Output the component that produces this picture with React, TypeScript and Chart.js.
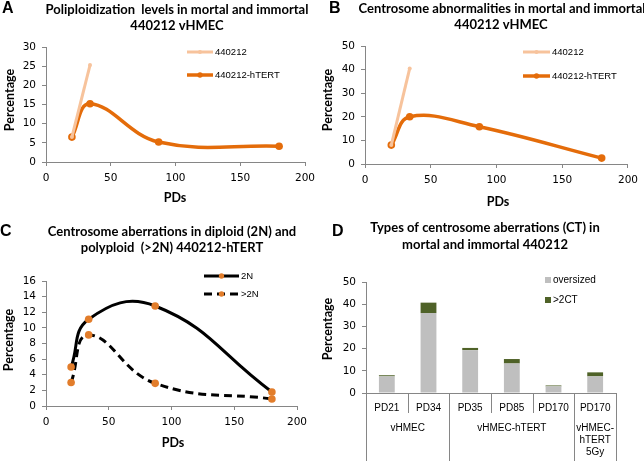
import React, { useEffect, useRef } from 'react';
import { Chart, registerables } from 'chart.js';
Chart.register(...registerables);

// ---------- DATA ----------
// Panel A: polyploidization levels
const pdsMortal = [20, 34];
const pdsImmortal = [20, 34, 87, 180];
const polyMortal = [6.5, 25.3];
const polyImmortal = [6.5, 15.2, 5.2, 4.1];
// Panel B: centrosome abnormalities
const centMortal = [8, 40.5];
const centImmortal = [8, 20, 15.8, 2.5];
// Panel C: centrosome aberrations by ploidy
const pdsC = [20, 34, 87, 180];
const diploid2N = [5, 11.1, 12.8, 1.8];
const polyploidGt2N = [3, 9.1, 2.9, 0.9];
// Panel D: types of centrosome aberrations
const dCategories = ['PD21', 'PD34', 'PD35', 'PD85', 'PD170', 'PD170'];
const dGroupLabels = [['vHMEC'], ['vHMEC-hTERT'], ['vHMEC-', 'hTERT', '5Gy']];
const dGroupSizes = [2, 3, 1];
const oversized = [7.5, 36, 19.3, 13.3, 3, 7.5];
const moreThan2CT = [0.5, 4.7, 1, 2, 0.4, 1.8];

// ---------- STYLE ----------
const AXIS = '#868686';
const LIGHT_OR = '#F7C39C';
const DARK_OR = '#E46C0A';
const MARK_OR = '#E27D2B';
const TICK_FONT = { family: 'DejaVu Sans', size: 10.5 };
const TITLE_FONT = 'bold 13px Lato';
const AXIS_TITLE_FONT = 'bold 12.5px Lato';
const LETTER_FONT = 'bold 16px "Liberation Sans"';
const LEGEND_FONT = '9.5px "Liberation Sans"';

type TextItem = { text: string; x: number; y: number; font: string; align?: CanvasTextAlign; rotate?: boolean };
type LegendItem = { ds: number; x: number; y: number; len: number; kind: 'line' | 'box' };

function makeDecor(texts: TextItem[], legend: LegendItem[], legendFont: string, extra?: (c: any) => void) {
  return {
    id: 'decor',
    afterDraw(chart: any) {
      const ctx = chart.ctx as CanvasRenderingContext2D;
      ctx.save();
      ctx.fillStyle = '#000';
      ctx.textBaseline = 'middle';
      for (const t of texts) {
        ctx.font = t.font;
        ctx.textAlign = t.align || 'center';
        if (t.rotate) {
          ctx.save();
          ctx.translate(t.x, t.y);
          ctx.rotate(-Math.PI / 2);
          ctx.fillText(t.text, 0, 0);
          ctx.restore();
        } else {
          ctx.fillText(t.text, t.x, t.y);
        }
      }
      for (const l of legend) {
        const ds = chart.data.datasets[l.ds];
        if (l.kind === 'line') {
          ctx.save();
          ctx.strokeStyle = ds.borderColor;
          ctx.lineWidth = ds.borderWidth;
          ctx.setLineDash(ds.borderDash || []);
          ctx.beginPath();
          ctx.moveTo(l.x, l.y);
          ctx.lineTo(l.x + l.len, l.y);
          ctx.stroke();
          ctx.restore();
          ctx.fillStyle = ds.pointBackgroundColor;
          ctx.beginPath();
          ctx.arc(l.x + l.len / 2, l.y, Math.max(2, ds.pointRadius * 0.7), 0, Math.PI * 2);
          ctx.fill();
        } else {
          ctx.fillStyle = ds.backgroundColor;
          ctx.fillRect(l.x, l.y - 3, 6, 6);
        }
        ctx.fillStyle = '#000';
        ctx.font = legendFont;
        ctx.textAlign = 'left';
        ctx.fillText(ds.label, l.x + l.len + 2, l.y);
      }
      if (extra) extra(chart);
      ctx.restore();
    },
  };
}

function linAxis(min: number, max: number, step: number, size: number, vertical: boolean, pad: number) {
  return {
    type: 'linear',
    min,
    max,
    ticks: { stepSize: step, font: TICK_FONT, color: '#000', padding: pad },
    grid: { drawOnChartArea: false, drawTicks: true, tickLength: 4, color: AXIS },
    border: { color: AXIS, width: 1 },
    afterFit(s: any) {
      if (vertical) s.width = size;
      else s.height = size;
    },
  };
}

const pts = (xs: number[], ys: number[]) => xs.map((x, i) => ({ x, y: ys[i] }));

type PanelProps = { left: number; top: number; w: number; h: number; build: () => any };

function Panel({ left, top, w, h, build }: PanelProps) {
  const ref = useRef<HTMLCanvasElement>(null);
  useEffect(() => {
    const chart = new Chart(ref.current as HTMLCanvasElement, build());
    return () => chart.destroy();
  }, []);
  return <canvas ref={ref} width={w} height={h} style={{ position: 'absolute', left, top, width: w, height: h }} />;
}

function lineConfig(opts: {
  w: number; h: number; area: [number, number, number, number];
  datasets: any[]; yMin: number; yMax: number; yStep: number;
  texts: TextItem[]; legend: LegendItem[];
}) {
  const [l, t, r, b] = opts.area;
  const xH = 40;
  return {
    type: 'line',
    data: { datasets: opts.datasets },
    options: {
      responsive: false,
      animation: false,
      layout: { padding: { left: 0, top: t, right: opts.w - r, bottom: opts.h - b - xH } },
      plugins: { legend: { display: false }, title: { display: false }, tooltip: { enabled: false } },
      scales: {
        x: linAxis(0, 200, 50, xH, false, 6),
        y: linAxis(opts.yMin, opts.yMax, opts.yStep, l, true, 6),
      },
    },
    plugins: [makeDecor(opts.texts, opts.legend, LEGEND_FONT)],
  };
}

function mortalDs(label: string, data: any[]) {
  return { label, data, borderColor: LIGHT_OR, backgroundColor: LIGHT_OR, pointBackgroundColor: LIGHT_OR,
    pointBorderColor: LIGHT_OR, pointRadius: 2, pointBorderWidth: 0, borderWidth: 3, tension: 0 };
}
function immortalDs(label: string, data: any[], tension: number) {
  return { label, data, borderColor: DARK_OR, backgroundColor: DARK_OR, pointBackgroundColor: DARK_OR,
    pointBorderColor: DARK_OR, pointRadius: 3.8, pointBorderWidth: 0, borderWidth: 3.5, tension };
}

function buildA() {
  return lineConfig({
    w: 322, h: 220, area: [46, 47, 305, 162],
    yMin: 0, yMax: 30, yStep: 5,
    datasets: [
      mortalDs('440212', pts(pdsMortal, polyMortal)),
      immortalDs('440212-hTERT', pts(pdsImmortal, polyImmortal), 0.4),
    ],
    texts: [
      { text: 'A', x: 2, y: 9, font: LETTER_FONT, align: 'left' },
      { text: 'Poliploidization  levels in mortal and immortal', x: 177, y: 10, font: TITLE_FONT },
      { text: '440212 vHMEC', x: 177, y: 26, font: TITLE_FONT },
      { text: 'Percentage', x: 10, y: 100, font: AXIS_TITLE_FONT, rotate: true },
      { text: 'PDs', x: 175, y: 198, font: AXIS_TITLE_FONT },
    ],
    legend: [
      { ds: 0, x: 187, y: 52, len: 26, kind: 'line' },
      { ds: 1, x: 187, y: 75, len: 26, kind: 'line' },
    ],
  });
}

function buildB() {
  return lineConfig({
    w: 322, h: 220, area: [43, 46, 311, 164],
    yMin: 0, yMax: 50, yStep: 10,
    datasets: [
      mortalDs('440212', pts(pdsMortal, centMortal)),
      immortalDs('440212-hTERT', pts(pdsImmortal, centImmortal), 0.4),
    ],
    texts: [
      { text: 'B', x: 7, y: 9, font: LETTER_FONT, align: 'left' },
      { text: 'Centrosome abnormalities in mortal and immortal', x: 180, y: 9, font: TITLE_FONT },
      { text: '440212 vHMEC', x: 179, y: 25, font: TITLE_FONT },
      { text: 'Percentage', x: 6, y: 100, font: AXIS_TITLE_FONT, rotate: true },
      { text: 'PDs', x: 176, y: 202, font: AXIS_TITLE_FONT },
    ],
    legend: [
      { ds: 0, x: 201, y: 52, len: 27, kind: 'line' },
      { ds: 1, x: 201, y: 76, len: 27, kind: 'line' },
    ],
  });
}

function buildC() {
  return lineConfig({
    w: 322, h: 241, area: [46, 61, 297, 186],
    yMin: 0, yMax: 16, yStep: 2,
    datasets: [
      { label: '2N', data: pts(pdsC, diploid2N), borderColor: '#000', backgroundColor: MARK_OR,
        pointBackgroundColor: MARK_OR, pointBorderColor: MARK_OR, pointRadius: 3.8, pointBorderWidth: 0, borderWidth: 3, tension: 0.45 },
      { label: '>2N', data: pts(pdsC, polyploidGt2N), borderColor: '#000', backgroundColor: MARK_OR, borderDash: [8, 5],
        pointBackgroundColor: MARK_OR, pointBorderColor: MARK_OR, pointRadius: 3.8, pointBorderWidth: 0, borderWidth: 3, tension: 0.45 },
    ],
    texts: [
      { text: 'C', x: 0, y: 12, font: LETTER_FONT, align: 'left' },
      { text: 'Centrosome aberrations in diploid (2N) and', x: 172, y: 12, font: TITLE_FONT },
      { text: 'polyploid  (>2N) 440212-hTERT', x: 172, y: 28, font: TITLE_FONT },
      { text: 'Percentage', x: 9, y: 120, font: AXIS_TITLE_FONT, rotate: true },
      { text: 'PDs', x: 173, y: 223, font: AXIS_TITLE_FONT },
    ],
    legend: [
      { ds: 0, x: 204, y: 56, len: 35, kind: 'line' },
      { ds: 1, x: 204, y: 74, len: 35, kind: 'line' },
    ],
  });
}

function buildD() {
  const W = 322, H = 241;
  const area = [44, 62, 294, 173];
  const xH = 40;
  const separators = (chart: any) => {
    const ctx = chart.ctx as CanvasRenderingContext2D;
    const xs = chart.scales.x;
    const ca = chart.chartArea;
    const step = xs.getPixelForValue(1) - xs.getPixelForValue(0);
    const x0 = xs.getPixelForValue(0);
    const n = dCategories.length;
    const groupBounds = new Set<number>([0]);
    let acc = 0;
    dGroupSizes.forEach((s) => { acc += s; groupBounds.add(acc); });
    ctx.strokeStyle = AXIS;
    ctx.lineWidth = 1;
    for (let i = 0; i <= n; i++) {
      const x = Math.round(x0 + (i - 0.5) * step) + 0.5;
      ctx.beginPath();
      ctx.moveTo(x, ca.bottom);
      ctx.lineTo(x, groupBounds.has(i) ? chart.height : ca.bottom + 20);
      ctx.stroke();
    }
    ctx.fillStyle = '#000';
    ctx.font = '10px "Liberation Sans"';
    ctx.textAlign = 'center';
    ctx.textBaseline = 'middle';
    let start = 0;
    dGroupLabels.forEach((lines, g) => {
      const k = dGroupSizes[g];
      const cx = x0 + (start + k / 2 - 0.5) * step;
      lines.forEach((ln, j) => ctx.fillText(ln, cx, ca.bottom + 35 + j * 12));
      start += k;
    });
  };
  return {
    type: 'bar',
    data: {
      labels: dCategories,
      datasets: [
        { label: 'oversized', data: oversized, backgroundColor: '#BFBFBF', barPercentage: 0.38, categoryPercentage: 1 },
        { label: '>2CT', data: moreThan2CT, backgroundColor: '#4F6228', barPercentage: 0.38, categoryPercentage: 1 },
      ],
    },
    options: {
      responsive: false,
      animation: false,
      layout: { padding: { left: 0, top: area[1], right: W - area[2], bottom: H - area[3] - xH } },
      plugins: { legend: { display: false }, title: { display: false }, tooltip: { enabled: false } },
      scales: {
        x: {
          stacked: true,
          ticks: { font: { family: 'Liberation Sans', size: 10 }, color: '#000', padding: 9, maxRotation: 0, autoSkip: false },
          grid: { drawOnChartArea: false, drawTicks: false, color: AXIS },
          border: { color: AXIS },
          afterFit(s: any) { s.height = xH; },
        },
        y: { ...linAxis(0, 50, 10, area[0], true, 6), stacked: true },
      },
    },
    plugins: [makeDecor(
      [
        { text: 'D', x: 10, y: 12, font: LETTER_FONT, align: 'left' },
        { text: 'Types of centrosome aberrations (CT) in', x: 163, y: 8, font: TITLE_FONT },
        { text: 'mortal and immortal 440212', x: 163, y: 25, font: TITLE_FONT },
        { text: 'Percentage', x: 6, y: 109, font: AXIS_TITLE_FONT, rotate: true },
      ],
      [
        { ds: 0, x: 223, y: 60, len: 6, kind: 'box' },
        { ds: 1, x: 223, y: 80, len: 6, kind: 'box' },
      ],
      '10px "Liberation Sans"',
      separators,
    )],
  };
}

export default function App() {
  return (
    <div style={{ position: 'fixed', left: 0, top: 0, width: 644, height: 461, background: '#fff', overflow: 'hidden' }}>
      <Panel left={0} top={0} w={322} h={220} build={buildA} />
      <Panel left={322} top={0} w={322} h={220} build={buildB} />
      <Panel left={0} top={220} w={322} h={241} build={buildC} />
      <Panel left={322} top={220} w={322} h={241} build={buildD} />
    </div>
  );
}
